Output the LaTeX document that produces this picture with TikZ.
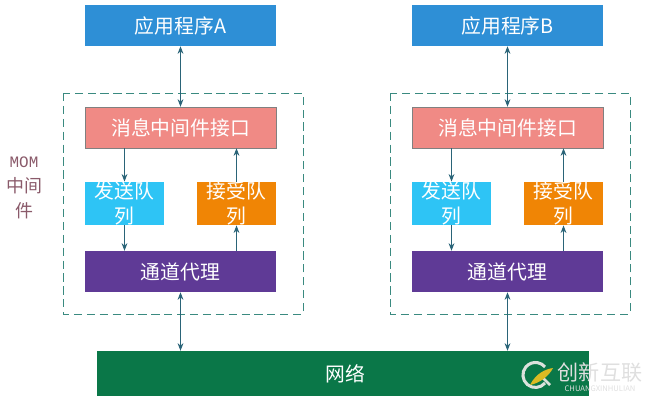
\documentclass[tikz,border=0pt]{standalone}
\usepackage{fontspec}
\setmainfont{Liberation Mono}
\newfontfamily\cjk{Noto Sans CJK SC}
\usetikzlibrary{calc}
\usetikzlibrary{arrows.meta}
\definecolor{appblue}{HTML}{2E8FD6}
\definecolor{ifacered}{HTML}{F08A85}
\definecolor{sendblue}{HTML}{2EC4F5}
\definecolor{recvorange}{HTML}{F08505}
\definecolor{chanpurple}{HTML}{5F3A96}
\definecolor{netgreen}{HTML}{0A7748}
\definecolor{linkteal}{HTML}{2A6478}
\definecolor{dashteal}{HTML}{3A8A80}
\definecolor{momred}{HTML}{8A5A6A}
\tikzset{
  boxnode/.style={inner sep=0pt, text=white, font=\cjk\fontsize{16.9}{21.3}\selectfont, align=center},
  widebox/.style={boxnode, minimum width=5.73cm, minimum height=1.23cm},
  queuebox/.style={boxnode, minimum width=2.37cm, minimum height=1.23cm},
  link/.style={draw=linkteal, line width=0.8pt, >={Stealth[length=6.5pt,width=5pt]}},
  groupbox/.style={draw=dashteal, line width=0.7pt, dash pattern=on 7pt off 4pt}
}

\begin{document}
\begin{tikzpicture}[x=0.03cm, y=-0.03cm]
\useasboundingbox (0,0) rectangle (653,406);

  \draw[groupbox] (63,93) rectangle (303,314);
  \draw[groupbox] (390,93) rectangle (630,314);

  \node[widebox, fill=appblue] (appA) at (180.5,25.5) {应用程序A};
  \node[widebox, fill=ifacered, draw=gray] (ifaceA) at (180.5,127.5) {消息中间件接口};
  \node[queuebox, fill=sendblue] (sendA) at (124.5,203.5) {发送队\\列};
  \node[queuebox, fill=recvorange] (recvA) at (236.5,203.5) {接受队\\列};
  \node[widebox, fill=chanpurple] (chanA) at (180.5,271.5) {通道代理};

  \node[widebox, fill=appblue] (appB) at (507.5,25.5) {应用程序B};
  \node[widebox, fill=ifacered, draw=gray] (ifaceB) at (507.5,127.5) {消息中间件接口};
  \node[queuebox, fill=sendblue] (sendB) at (451.5,203.5) {发送队\\列};
  \node[queuebox, fill=recvorange] (recvB) at (563.5,203.5) {接受队\\列};
  \node[widebox, fill=chanpurple] (chanB) at (507.5,271.5) {通道代理};

  \node[boxnode, fill=netgreen, minimum width=14.76cm, minimum height=1.35cm] (net) at (343,373.5) {};
  \node[boxnode] (netlabel) at (345,373.5) {网络};

  \node[text=momred, font=\fontsize{13.6}{16}\selectfont] (momlabel) at (24,162) {MOM};
  \node[text=momred, font=\cjk\fontsize{15.3}{21.3}\selectfont, align=center] (midlabel) at (24,198) {中间\\件};

  \draw[link, <->] (appA.south) -- (ifaceA.north);
  \draw[link, ->] (ifaceA.south -| sendA.north) -- (sendA.north);
  \draw[link, ->] (recvA.north) -- (ifaceA.south -| recvA.north);
  \draw[link, ->] (sendA.south) -- (chanA.north -| sendA.south);
  \draw[link, ->] (chanA.north -| recvA.south) -- (recvA.south);
  \draw[link, <->] (chanA.south) -- (chanA.south |- net.north);

  \draw[link, <->] (appB.south) -- (ifaceB.north);
  \draw[link, ->] (ifaceB.south -| sendB.north) -- (sendB.north);
  \draw[link, ->] (recvB.north) -- (ifaceB.south -| recvB.north);
  \draw[link, ->] (sendB.south) -- (chanB.north -| sendB.south);
  \draw[link, ->] (chanB.north -| recvB.south) -- (recvB.south);
  \draw[link, <->] (chanB.south) -- (chanB.south |- net.north);

  \draw[line width=2.6pt, color=green!10!gray!25] (545,383) arc (40:320:12.5);
  \draw[line width=2.4pt, color=green!10!gray!25] (540,375) -- (550,385);
  \fill[color=yellow!70!orange!85!black] (530,385) .. controls (536,373) and (546,369) .. (553,368) .. controls (549,376) and (540,383) .. (530,385);
  \node[text=gray!25, font=\cjk\fontsize{18}{20}\selectfont] (marktext) at (600,373) {创新互联};
  \node[text=gray!25, font=\cjk\fontsize{6.5}{7}\selectfont] (marksub) at (600,389) {CHUANGXINHULIAN};

\end{tikzpicture}
\end{document}
